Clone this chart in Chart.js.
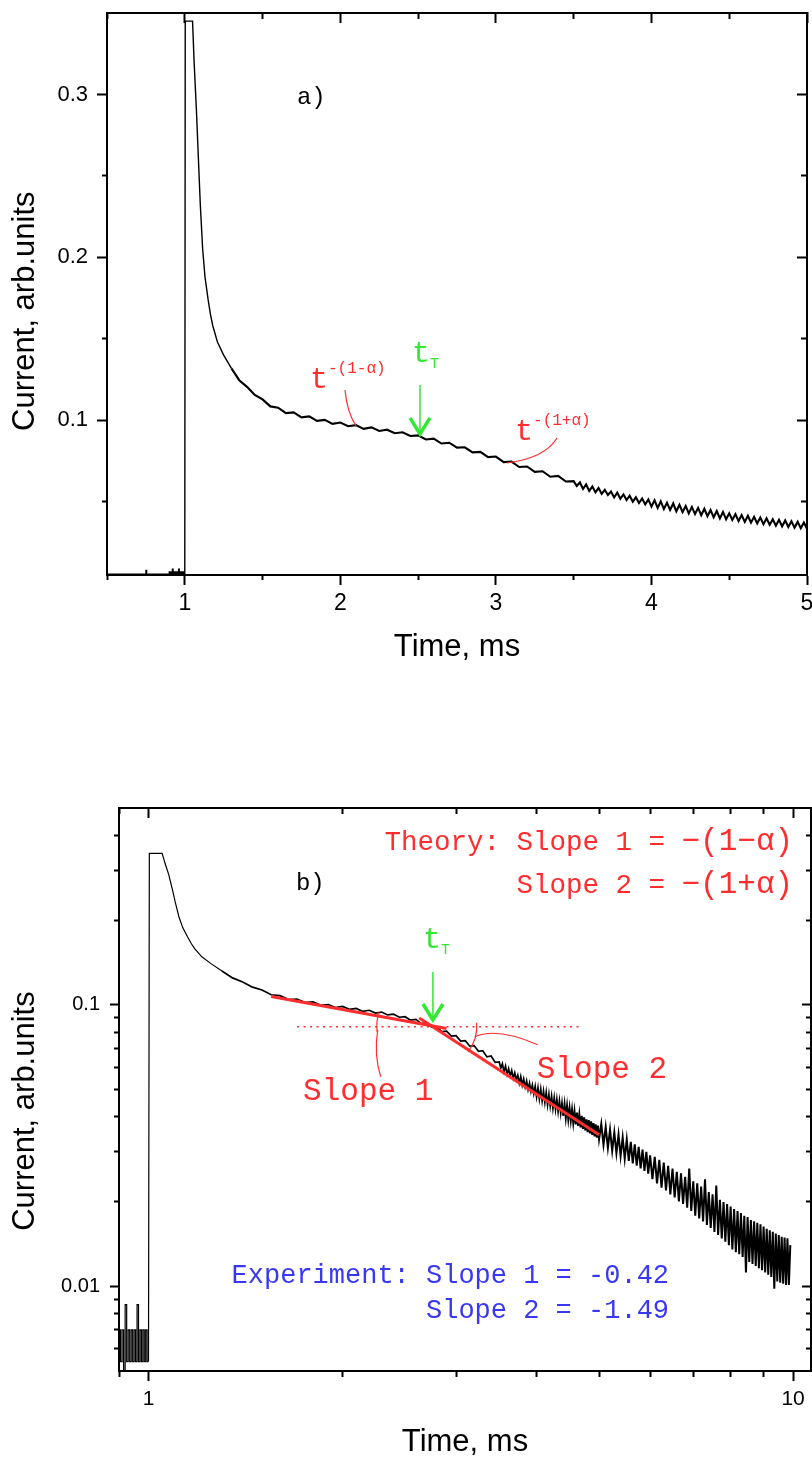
<!DOCTYPE html>
<html><head><meta charset="utf-8">
<script src="https://cdn.jsdelivr.net/npm/chart.js@4.4.1/dist/chart.umd.min.js"></script>
<style>
html,body{margin:0;padding:0;background:#fff;}
#wrapA{position:absolute;left:0;top:0;width:812px;height:690px;}
#wrapB{position:absolute;left:0;top:690px;width:812px;height:770px;}
canvas{display:block;}
</style></head><body>
<div id="wrapA"><canvas id="chartA" width="812" height="690"></canvas></div>
<div id="wrapB"><canvas id="chartB" width="812" height="770"></canvas></div>
<script>
// ---------- tick values ----------
const aXMajor = [1, 2, 3, 4, 5];
const aXMinor = [0.5, 1.5, 2.5, 3.5, 4.5];
const aYMajor = [0.1, 0.2, 0.3];
const aYMinor = [0.05, 0.15, 0.25];
const bXMajor = [1, 10];
const bXMinor = [0.9, 2, 3, 4, 5, 6, 7, 8, 9];
const bYMajor = [0.01, 0.1];
const bYMinor = [0.006, 0.007, 0.008, 0.009, 0.02, 0.03, 0.04, 0.05, 0.06, 0.07, 0.08, 0.09, 0.2, 0.3, 0.4];

// ---------- measured trace (ms, arb. units) ----------
const preTime = [0.500, 0.745, 0.750, 0.755, 0.900, 0.905, 0.910, 0.915, 0.920, 0.925, 0.930, 0.935, 0.940, 0.945, 0.950, 0.955, 0.960, 0.965, 0.970, 0.975, 0.980, 0.985, 0.990, 0.995, 1.000];
const preCurrent = [0.0055, 0.0055, 0.0078, 0.0055, 0.0070, 0.0054, 0.0070, 0.0050, 0.0086, 0.0054, 0.0070, 0.0054, 0.0070, 0.0054, 0.0070, 0.0054, 0.0086, 0.0054, 0.0070, 0.0054, 0.0070, 0.0054, 0.0070, 0.0054, 0.0054];

const time = [
  1.000, 1.003, 1.050, 1.060, 1.075, 1.090, 1.100, 1.115, 1.130, 1.150, 1.165, 1.180, 1.210, 1.250,
  1.30, 1.35, 1.40, 1.45, 1.50, 1.55, 1.60, 1.65, 1.70, 1.75, 1.80, 1.85, 1.90, 1.95, 2.00, 2.05, 2.10, 2.15, 2.20, 2.25, 2.30, 2.35,
  2.40, 2.45, 2.50, 2.55, 2.60, 2.65, 2.70, 2.75, 2.80, 2.85, 2.90, 2.95, 3.00, 3.05, 3.10, 3.15, 3.20, 3.25, 3.30, 3.35, 3.40, 3.45,
  3.50, 3.52, 3.54, 3.56, 3.58, 3.60, 3.62, 3.64, 3.66, 3.68, 3.70, 3.72, 3.74, 3.76, 3.78, 3.80, 3.82, 3.84, 3.86, 3.88, 3.90, 3.92, 3.94, 3.96, 3.98,
  4.00, 4.02, 4.04, 4.06, 4.08, 4.10, 4.12, 4.14, 4.16, 4.18, 4.20, 4.22, 4.24, 4.26, 4.28, 4.30, 4.32, 4.34, 4.36, 4.38, 4.40, 4.42, 4.44, 4.46, 4.48,
  4.50, 4.52, 4.54, 4.56, 4.58, 4.60, 4.62, 4.64, 4.66, 4.68, 4.70, 4.72, 4.74, 4.76, 4.78, 4.80, 4.82, 4.84, 4.86, 4.88, 4.90, 4.92, 4.94, 4.96, 4.98,
  5.00,
  5.04, 5.08, 5.12, 5.16, 5.20, 5.24, 5.28, 5.32, 5.36, 5.40, 5.44, 5.48, 5.52, 5.56, 5.60, 5.64, 5.68, 5.72, 5.76, 5.80, 5.84, 5.88, 5.92, 5.96, 6.00,
  6.05, 6.10, 6.15, 6.20, 6.25, 6.30, 6.35, 6.40, 6.45, 6.50, 6.55, 6.60, 6.65, 6.70, 6.75, 6.80, 6.85, 6.90, 6.95, 7.00,
  7.05, 7.10, 7.15, 7.20, 7.25, 7.30, 7.35, 7.40, 7.45, 7.50, 7.55, 7.60, 7.65, 7.70, 7.75, 7.80, 7.85, 7.90, 7.95, 8.00,
  8.05, 8.10, 8.15, 8.20, 8.25, 8.30, 8.35, 8.40, 8.45, 8.50, 8.55, 8.60, 8.65, 8.70, 8.75, 8.80, 8.85, 8.90, 8.95, 9.00,
  9.05, 9.10, 9.15, 9.20, 9.25, 9.30, 9.35, 9.40, 9.45, 9.50, 9.55, 9.60, 9.65, 9.70, 9.75, 9.80, 9.85, 9.90
];
const current = [
  0.0054, 0.345, 0.345, 0.320, 0.290, 0.255, 0.232, 0.205, 0.188, 0.174, 0.165, 0.158, 0.148, 0.1400,
  0.1318, 0.1246, 0.1205, 0.1155, 0.1128, 0.1085, 0.1077, 0.1044, 0.1048, 0.1018, 0.1024, 0.0996, 0.1002, 0.0978, 0.0986, 0.0963, 0.0970, 0.0947, 0.0956, 0.0934, 0.0942, 0.0920,
  0.0926, 0.0903, 0.0907, 0.0882, 0.0887, 0.0857, 0.0862, 0.0832, 0.0834, 0.0803, 0.0806, 0.0774, 0.0777, 0.0743, 0.0746, 0.0713, 0.0716, 0.0683, 0.0687, 0.0653, 0.0658, 0.0624,
  0.0626, 0.0596, 0.0618, 0.0578, 0.0606, 0.0566, 0.0593, 0.0558, 0.0584, 0.0548, 0.0573, 0.0541, 0.0562, 0.0526, 0.0556, 0.0518, 0.0545, 0.0510, 0.0537, 0.0500, 0.0527, 0.0492, 0.0519, 0.0483, 0.0514,
  0.0470, 0.0508, 0.0462, 0.0502, 0.0455, 0.0494, 0.0449, 0.0489, 0.0441, 0.0481, 0.0436, 0.0474, 0.0428, 0.0468, 0.0424, 0.0462, 0.0417, 0.0456, 0.0411, 0.0449, 0.0404, 0.0443, 0.0397, 0.0437, 0.0392,
  0.0429, 0.0388, 0.0424, 0.0381, 0.0418, 0.0376, 0.0414, 0.0371, 0.0407, 0.0367, 0.0403, 0.0362, 0.0398, 0.0358, 0.0392, 0.0353, 0.0389, 0.0349, 0.0385, 0.0345, 0.0380, 0.0341, 0.0376, 0.0337, 0.0372,
  0.0333,
  0.0377, 0.0318, 0.0368, 0.0310, 0.0360, 0.0303, 0.0352, 0.0297, 0.0346, 0.0290, 0.0338, 0.0284, 0.0332, 0.0279, 0.0326, 0.0273, 0.0319, 0.0268, 0.0313, 0.0262, 0.0306, 0.0257, 0.0300, 0.0251, 0.0292,
  0.0240, 0.0288, 0.0232, 0.0281, 0.0224, 0.0275, 0.0219, 0.0268, 0.0212, 0.0262, 0.0207, 0.0255, 0.0200, 0.0252, 0.0196, 0.0245, 0.0190, 0.0262, 0.0185, 0.0236,
  0.0178, 0.0232, 0.0174, 0.0226, 0.0170, 0.0240, 0.0165, 0.0216, 0.0161, 0.0212, 0.0156, 0.0228, 0.0152, 0.0203, 0.0148, 0.0199, 0.0144, 0.0196, 0.0140, 0.0192,
  0.0135, 0.0188, 0.0132, 0.0185, 0.0130, 0.0182, 0.0127, 0.0178, 0.0112, 0.0176, 0.0122, 0.0172, 0.0120, 0.0170, 0.0118, 0.0168, 0.0116, 0.0166, 0.0114, 0.0163,
  0.0112, 0.0160, 0.0110, 0.0158, 0.0108, 0.0156, 0.0098, 0.0154, 0.0104, 0.0152, 0.0103, 0.0150, 0.0102, 0.0149, 0.0101, 0.0148, 0.0101, 0.0140
];

// ---------- fitted power laws and guide (panel b) ----------
const fit1Time = [1.55, 2.90];
const fit1Current = [0.107, 0.0823];
const fit2Time = [2.63, 5.00];
const fit2Current = [0.0898, 0.0345];
const guideTime = [1.70, 4.70];
const guideCurrent = [0.0835, 0.0835];

// ---------- helpers ----------
const pts = (xs, ys) => xs.map((x, i) => ({x: x, y: ys[i]}));
const RED = '#ff2d2d', GREEN = '#33e833', BLUE = '#3838f2';
const MONO = '"Liberation Mono","Courier New",monospace';
const SANS = '"Liberation Sans", Arial, sans-serif';
const f = sz => sz + 'px ' + MONO;

function scale(pos, type, min, max, tickVals, len, weight, size, extra) {
  const s = {
    type: type, position: pos, min: min, max: max, weight: weight,
    afterBuildTicks: sc => { sc.ticks = tickVals.map(v => ({value: v})); },
    afterFit: sc => {
      if (pos === 'left' || pos === 'right') sc.width = size; else sc.height = size;
      sc.paddingLeft = 0; sc.paddingRight = 0; sc.paddingTop = 0; sc.paddingBottom = 0;
    },
    ticks: {display: false, autoSkip: false},
    grid: {drawOnChartArea: false, drawTicks: true, tickLength: len, tickWidth: 2, tickColor: '#000'},
    border: {display: true, color: '#000', width: 2}
  };
  return Object.assign(s, extra || {});
}

function tickLabels(size, pad) {
  return {display: true, autoSkip: false, maxRotation: 0, minRotation: 0, padding: pad, color: '#000',
          font: {family: SANS, size: size, lineHeight: 1}, callback: v => String(v)};
}
function axisTitle(text, pad) {
  return {display: true, text: text, color: '#000', font: {family: SANS, size: 31, lineHeight: 1}, padding: pad};
}

function powerLabel(ctx, x, y, sup) {
  ctx.fillStyle = RED; ctx.textAlign = 'left';
  ctx.font = f(30); ctx.fillText('t', x, y);
  const w = ctx.measureText('t').width;
  ctx.font = f(16); ctx.fillText(sup, x + w, y - 15);
}
function tT(ctx, x, y) {
  ctx.fillStyle = GREEN; ctx.textAlign = 'left';
  ctx.font = f(30); ctx.fillText('t', x, y);
  const w = ctx.measureText('t').width;
  ctx.font = f(15); ctx.fillText('T', x + w, y + 6);
}
function arrow(ctx, x, y0, y1) {
  ctx.strokeStyle = GREEN; ctx.lineWidth = 1.5;
  ctx.beginPath(); ctx.moveTo(x, y0); ctx.lineTo(x, y1 - 2); ctx.stroke();
  ctx.lineWidth = 3.5; ctx.lineJoin = 'miter';
  ctx.beginPath(); ctx.moveTo(x - 10, y1 - 16); ctx.lineTo(x, y1); ctx.lineTo(x + 10, y1 - 16); ctx.stroke();
}
function theoryLine(ctx, ax, y, small, big) {
  ctx.fillStyle = RED; ctx.textAlign = 'right';
  ctx.font = f(31); ctx.fillText(big, ax, y);
  const bw = ctx.measureText(big).width;
  ctx.font = f(27.5); ctx.fillText(small, ax - bw, y);
  ctx.textAlign = 'left';
}

// ---------- panel a ----------
const annotA = {
  id: 'annotA',
  afterDatasetsDraw(chart) {
    const ctx = chart.ctx;
    const X = v => chart.scales.x.getPixelForValue(v);
    const Y = v => chart.scales.y.getPixelForValue(v);
    ctx.save();
    ctx.textBaseline = 'alphabetic';
    ctx.font = f(24); ctx.fillStyle = '#000'; ctx.textAlign = 'left';
    ctx.fillText('a)', X(1.721), Y(0.2941));
    powerLabel(ctx, X(1.805), Y(0.1198), '-(1-α)');
    powerLabel(ctx, X(3.123), Y(0.0879), '-(1+α)');
    ctx.strokeStyle = RED; ctx.lineWidth = 1.2;
    ctx.beginPath(); ctx.moveTo(X(2.030), Y(0.1186)); ctx.quadraticCurveTo(X(2.043), Y(0.105), X(2.101), Y(0.0965)); ctx.stroke();
    ctx.beginPath(); ctx.moveTo(X(3.393), Y(0.0891)); ctx.quadraticCurveTo(X(3.316), Y(0.0768), X(3.071), Y(0.0738)); ctx.stroke();
    tT(ctx, X(2.461), Y(0.1358));
    arrow(ctx, X(2.512), Y(0.1216), Y(0.0916));
    ctx.restore();
  }
};

new Chart(document.getElementById('chartA'), {
  type: 'line',
  data: {datasets: [
    {data: pts(time, current), borderColor: '#000', borderWidth: 1.5, pointRadius: 0, tension: 0, fill: false, order: 1,
     segment: {borderWidth: c => (c.p0.parsed.x >= 1.28 ? 2.1 : 1.4)}},
    {data: pts(preTime, preCurrent), stepped: true, borderColor: '#000', borderWidth: 1.2, pointRadius: 0, fill: false, order: 2}
  ]},
  options: {
    responsive: false, animation: false, events: [],
    layout: {padding: {left: 0, right: 5, top: 13, bottom: 0}},
    plugins: {legend: {display: false}, tooltip: {enabled: false}},
    scales: {
      x: scale('bottom', 'linear', 0.5, 5, aXMajor, 10, 1, 115, {
        ticks: tickLabels(23, 7), title: axisTitle('Time, ms', {top: 0, bottom: 27})}),
      xm: scale('bottom', 'linear', 0.5, 5, aXMinor, 5, 0, 0),
      xt: scale('top', 'linear', 0.5, 5, aXMajor, -10, 0, 0),
      xtm: scale('top', 'linear', 0.5, 5, aXMinor, -6, 0, 0),
      y: scale('left', 'linear', 0.005, 0.35, aYMajor, 10, 1, 107, {
        ticks: tickLabels(22, 9), title: axisTitle('Current, arb.units    ', {top: 10, bottom: 0})}),
      ym: scale('left', 'linear', 0.005, 0.35, aYMinor, 5, 0, 0),
      yr: scale('right', 'linear', 0.005, 0.35, aYMajor, -10, 0, 0),
      yrm: scale('right', 'linear', 0.005, 0.35, aYMinor, -6, 0, 0)
    }
  },
  plugins: [annotA]
});

// ---------- panel b ----------
const annotB = {
  id: 'annotB',
  afterDatasetsDraw(chart) {
    const ctx = chart.ctx;
    const X = v => chart.scales.x.getPixelForValue(v);
    const Y = v => chart.scales.y.getPixelForValue(v);
    ctx.save();
    ctx.textBaseline = 'alphabetic';
    ctx.font = f(24); ctx.fillStyle = '#000'; ctx.textAlign = 'left';
    ctx.fillText('b)', X(1.693), Y(0.2557));
    const ax = X(10.0);
    theoryLine(ctx, ax, Y(0.3546), 'Theory: Slope 1 = ', '−(1−α)');
    theoryLine(ctx, ax, Y(0.2494), 'Slope 2 = ', '−(1+α)');
    ctx.font = f(27); ctx.fillStyle = BLUE; ctx.textAlign = 'right';
    ctx.fillText('Experiment: Slope 1 = -0.42', X(6.42), Y(0.01027));
    ctx.fillText('Slope 2 = -1.49', X(6.42), Y(0.00772));
    ctx.textAlign = 'left';
    tT(ctx, X(2.665), Y(0.1591));
    arrow(ctx, X(2.762), Y(0.1307), Y(0.0883));
    const vx = X(2.80), vy = Y(0.0835);
    const a1 = Math.atan2(Y(fit1Current[0]) - vy, X(fit1Time[0]) - vx);
    const a2 = Math.atan2(Y(fit2Current[1]) - vy, X(fit2Time[1]) - vx);
    ctx.strokeStyle = RED; ctx.lineWidth = 1.2;
    ctx.beginPath(); ctx.arc(vx, vy, 60, Math.PI - 0.08, a1 + 2 * Math.PI + 0.06, false); ctx.stroke();
    ctx.beginPath(); ctx.arc(vx, vy, 40, -0.1, a2 + 0.08, false); ctx.stroke();
    ctx.beginPath(); ctx.moveTo(vx - 59, vy + 3); ctx.quadraticCurveTo(vx - 63, vy + 28, vx - 56, vy + 50); ctx.stroke();
    ctx.beginPath(); ctx.moveTo(vx + 38, vy + 10); ctx.quadraticCurveTo(vx + 60, vy + 0, vx + 101, vy + 18); ctx.stroke();
    ctx.font = f(31); ctx.fillStyle = RED; ctx.textAlign = 'left';
    ctx.fillText('Slope 1', X(1.737), Y(0.0459));
    ctx.fillText('Slope 2', X(4.004), Y(0.0550));
    ctx.restore();
  }
};

new Chart(document.getElementById('chartB'), {
  type: 'line',
  data: {datasets: [
    {data: pts(fit1Time, fit1Current), borderColor: RED, borderWidth: 3, pointRadius: 0, fill: false, order: 0},
    {data: pts(fit2Time, fit2Current), borderColor: RED, borderWidth: 3, pointRadius: 0, fill: false, order: 0},
    {data: pts(guideTime, guideCurrent), borderColor: RED, borderWidth: 1.5, borderDash: [2, 4.5], pointRadius: 0, fill: false, order: 0},
    {data: pts(time, current), borderColor: '#000', borderWidth: 1.2, pointRadius: 0, tension: 0, fill: false, order: 1,
     segment: {borderWidth: c => (c.p0.parsed.x >= 4.4 ? 2 : (c.p0.parsed.x >= 1.28 ? 1.7 : 1.2))}},
    {data: pts(preTime, preCurrent), stepped: true, borderColor: '#000', borderWidth: 1.2, pointRadius: 0, fill: false, order: 2}
  ]},
  options: {
    responsive: false, animation: false, events: [],
    layout: {padding: {left: 0, right: 1, top: 118, bottom: 0}},
    plugins: {legend: {display: false}, tooltip: {enabled: false}},
    scales: {
      x: scale('bottom', 'logarithmic', 0.9, 10.66, bXMajor, 10, 1, 89, {
        ticks: tickLabels(21, 8), title: axisTitle('Time, ms', {top: 0, bottom: 2})}),
      xm: scale('bottom', 'logarithmic', 0.9, 10.66, bXMinor, 6, 0, 0),
      xt: scale('top', 'logarithmic', 0.9, 10.66, bXMajor, -10, 0, 0),
      xtm: scale('top', 'logarithmic', 0.9, 10.66, bXMinor, -6, 0, 0),
      y: scale('left', 'logarithmic', 0.005, 0.5, bYMajor, 9, 1, 119, {
        ticks: tickLabels(20, 10), title: axisTitle('Current, arb.units     ', {top: 10, bottom: 0})}),
      ym: scale('left', 'logarithmic', 0.005, 0.5, bYMinor, 5, 0, 0),
      yr: scale('right', 'logarithmic', 0.005, 0.5, bYMajor, -9, 0, 0),
      yrm: scale('right', 'logarithmic', 0.005, 0.5, bYMinor, -5, 0, 0)
    }
  },
  plugins: [annotB]
});
</script>
</body></html>
